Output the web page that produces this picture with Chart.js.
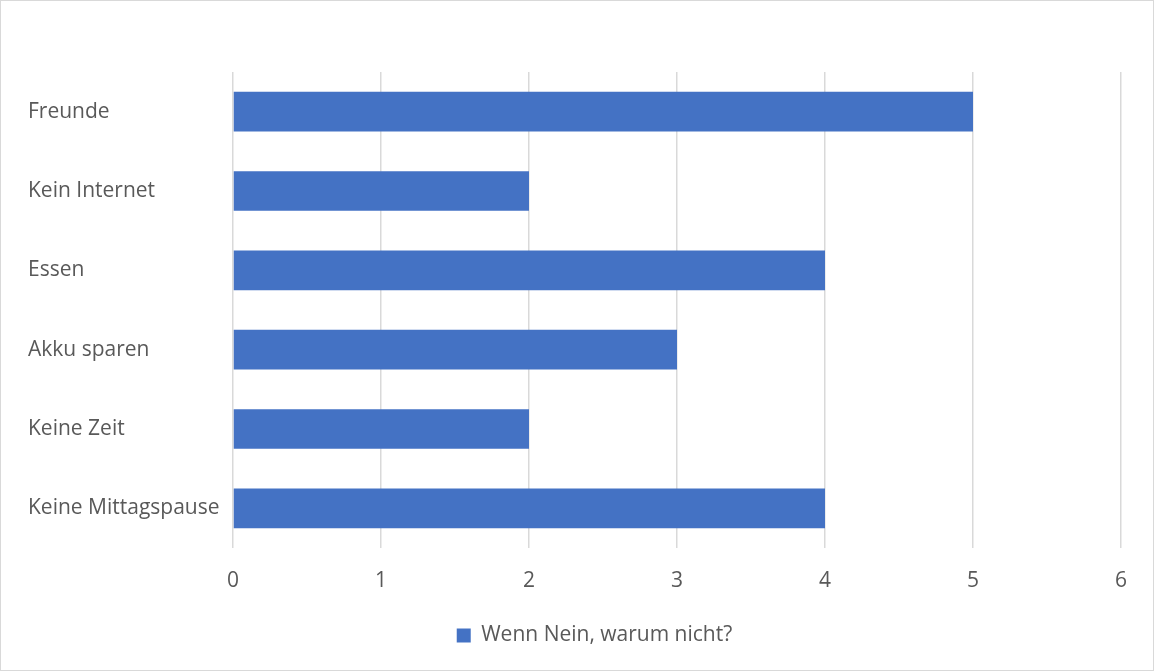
<!DOCTYPE html>
<html><head><meta charset="utf-8">
<script src="https://cdn.jsdelivr.net/npm/chart.js@4"></script>
<style>html,body{margin:0;padding:0;background:#fff}#w{width:1154px;height:671px;position:relative}</style>
</head><body><div id="w"><canvas id="c" width="1154" height="671"></canvas></div>
<script>
const categories = ["Freunde","Kein Internet","Essen","Akku sparen","Keine Zeit","Keine Mittagspause"];
const values = [5,2,4,3,2,4];
const seriesName = "Wenn Nein, warum nicht?";
const xTicks = [0,1,2,3,4,5,6];

const borderPlugin = {id:'bd',
  afterLayout(ch){ if(ch.legend){ ch.legend.left += 20; ch.legend.right += 20; } },
  afterDraw(ch){const c=ch.ctx;c.save();c.strokeStyle='#d9d9d9';c.lineWidth=1;c.strokeRect(0.5,0.5,ch.width-1,ch.height-1);c.restore();}};
const font = {family:"'Open Sans', sans-serif", size:21};
new Chart(document.getElementById('c'), {
  type:'bar',
  data:{labels:categories, datasets:[{label:seriesName, data:values, backgroundColor:'#4472C4', borderWidth:0, barPercentage:0.5, categoryPercentage:1}]},
  options:{
    indexAxis:'y', responsive:false, animation:false,
    layout:{padding:{left:28, top:72, right:33, bottom:15}},
    plugins:{legend:{position:'bottom', labels:{boxWidth:14, boxHeight:14, color:'#595959', font:font, padding:6}}, tooltip:{enabled:false}},
    scales:{
      x:{min:0,max:6, afterBuildTicks(s){s.ticks=xTicks.map(v=>({value:v}));}, grid:{color:'#d9d9d9', lineWidth:1.5, drawTicks:false}, border:{display:false}, ticks:{color:'#595959', font:font, padding:20}, afterFit(s){s.height=71;}},
      y:{grid:{display:false}, border:{display:false}, ticks:{color:'#595959', font:font, crossAlign:'far', padding:0}, afterFit(s){s.width=205;}}
    }
  },
  plugins:[borderPlugin]
});
</script></body></html>
